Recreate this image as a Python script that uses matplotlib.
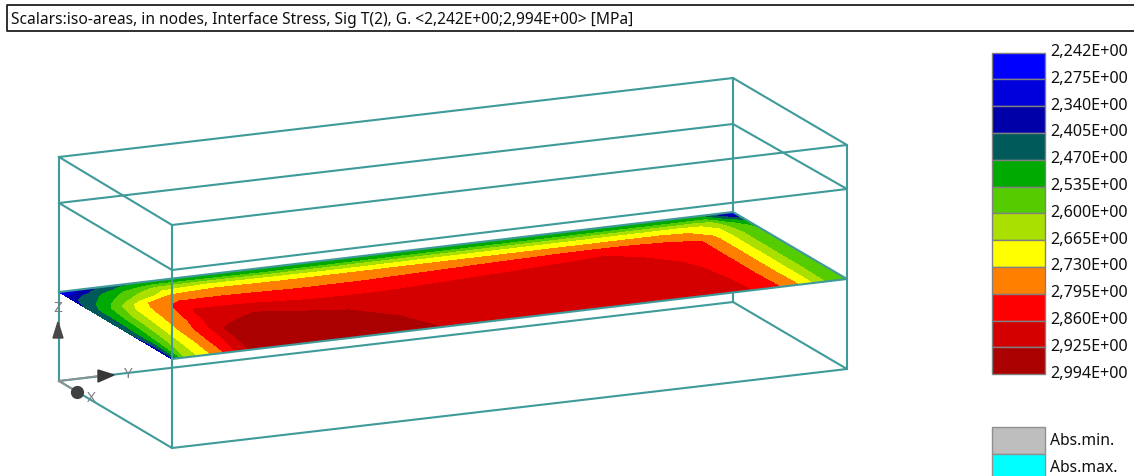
import matplotlib
matplotlib.use('Agg')
import matplotlib.pyplot as plt
import numpy as np

plt.rcParams['font.family'] = ['Noto Sans', 'DejaVu Sans']

title = 'Scalars:iso-areas, in nodes, Interface Stress, Sig T(2), G. <2,242E+00;2,994E+00> [MPa]'

# iso levels and colours of the legend
levels = [2.242, 2.275, 2.340, 2.405, 2.470, 2.535, 2.600, 2.665, 2.730, 2.795, 2.860, 2.925, 2.994]
level_labels = ['2,242E+00', '2,275E+00', '2,340E+00', '2,405E+00', '2,470E+00', '2,535E+00', '2,600E+00',
                '2,665E+00', '2,730E+00', '2,795E+00', '2,860E+00', '2,925E+00', '2,994E+00']
band_colors = ['#0000ff', '#0000dc', '#0000a8', '#005a5a', '#00aa00', '#55cc00', '#aae000',
               '#ffff00', '#ff8000', '#ff0000', '#d40000', '#aa0000']
abs_labels = ['Abs.min.', 'Abs.max.']
abs_colors = ['#bebebe', '#00ffff']

# stress, rows along the short side, columns along the long side
u_pos = [0, .01, .02, .04, .06, .08, .11, .13, .2, .3, .4, .6, .75, .86, .9, .93, .95, .97, 1]
v_pos = [0, .03, .06, .09, .13, .19, .27, .32, .43, .55, .65, .8, 1]
stress = [
    [2.245, 2.27, 2.31, 2.36, 2.41, 2.43, 2.45, 2.46, 2.46, 2.46, 2.46, 2.46, 2.46, 2.47, 2.48, 2.49, 2.47, 2.38, 2.25],
    [2.28, 2.31, 2.34, 2.39, 2.43, 2.465, 2.50, 2.51, 2.49, 2.485, 2.485, 2.49, 2.49, 2.495, 2.50, 2.51, 2.50, 2.42, 2.29],
    [2.32, 2.34, 2.37, 2.42, 2.455, 2.49, 2.535, 2.55, 2.55, 2.535, 2.535, 2.54, 2.54, 2.54, 2.54, 2.54, 2.54, 2.46, 2.35],
    [2.36, 2.385, 2.41, 2.45, 2.49, 2.53, 2.58, 2.61, 2.62, 2.60, 2.60, 2.60, 2.60, 2.60, 2.60, 2.60, 2.59, 2.50, 2.405],
    [2.39, 2.41, 2.43, 2.475, 2.52, 2.565, 2.62, 2.655, 2.68, 2.665, 2.66, 2.665, 2.665, 2.665, 2.665, 2.66, 2.63, 2.55, 2.475],
    [2.40, 2.43, 2.46, 2.51, 2.56, 2.61, 2.665, 2.72, 2.74, 2.73, 2.73, 2.73, 2.73, 2.73, 2.72, 2.70, 2.66, 2.585, 2.52],
    [2.41, 2.46, 2.49, 2.565, 2.64, 2.71, 2.785, 2.785, 2.785, 2.775, 2.775, 2.79, 2.80, 2.79, 2.78, 2.72, 2.665, 2.60, 2.535],
    [2.41, 2.46, 2.50, 2.57, 2.665, 2.725, 2.79, 2.81, 2.81, 2.80, 2.80, 2.82, 2.85, 2.805, 2.795, 2.725, 2.665, 2.60, 2.535],
    [2.41, 2.46, 2.505, 2.60, 2.675, 2.735, 2.805, 2.87, 2.865, 2.845, 2.845, 2.865, 2.875, 2.835, 2.795, 2.725, 2.665, 2.60, 2.535],
    [2.41, 2.465, 2.515, 2.61, 2.69, 2.75, 2.82, 2.89, 2.93, 2.895, 2.885, 2.895, 2.89, 2.85, 2.795, 2.725, 2.665, 2.60, 2.535],
    [2.405, 2.47, 2.525, 2.625, 2.70, 2.765, 2.85, 2.92, 2.95, 2.93, 2.905, 2.905, 2.895, 2.855, 2.795, 2.725, 2.665, 2.60, 2.535],
    [2.36, 2.46, 2.55, 2.645, 2.71, 2.78, 2.87, 2.94, 2.97, 2.95, 2.915, 2.915, 2.90, 2.858, 2.795, 2.725, 2.665, 2.60, 2.535],
    [2.36, 2.50, 2.60, 2.67, 2.735, 2.80, 2.915, 2.955, 2.99, 2.965, 2.925, 2.92, 2.905, 2.86, 2.80, 2.73, 2.665, 2.595, 2.53],
]

# corners in screen pixels: back-left, front-left, front-right, back-right
plate_x = [59, 172, 847, 733]
plate_y = [293, 360, 280, 213]
box_top_y = [158, 226, 146, 79]
box_mid_y = [204, 271, 190, 125]
box_low_y = [382, 449, 370, 303]

fig = plt.figure(figsize=(11.34, 4.77), dpi=100)
ax = fig.add_axes([0, 0, 1, 1])
ax.set_xlim(0, 1134)
ax.set_ylim(477, 0)
ax.axis('off')

teal = '#3f9a9a'
wire = 1.5

# plate, mapped from its own coordinates onto the screen
uu, vv = np.meshgrid(u_pos, v_pos)
px = plate_x[0] + uu * (plate_x[3] - plate_x[0]) + vv * (plate_x[1] - plate_x[0])
py = plate_y[0] + uu * (plate_y[3] - plate_y[0]) + vv * (plate_y[1] - plate_y[0])
ax.contourf(px, py, np.array(stress), levels=levels, colors=band_colors, zorder=2)
# the short left side of the plate has no wire on it
ax.plot(plate_x[1:] + plate_x[:1], plate_y[1:] + plate_y[:1], color=teal, lw=wire, zorder=3)

# wire box
ax.plot([plate_x[3], plate_x[3]], [box_top_y[3], box_low_y[3]], color=teal, lw=wire, zorder=1)
for ys in [box_top_y, box_mid_y, box_low_y]:
    ax.plot(plate_x + plate_x[:1], ys + ys[:1], color=teal, lw=wire, zorder=3)
for i in [0, 1, 2]:
    ax.plot([plate_x[i], plate_x[i]], [box_top_y[i], box_low_y[i]], color=teal, lw=wire, zorder=3)

# axis triad
ax.plot([59, 98], [382, 377], color='#909090', lw=1.2, zorder=4)
ax.plot([59, 72], [382, 390], color='#909090', lw=1.2, zorder=4)
ax.fill([53, 63, 58], [339, 339, 323], color='#484848', zorder=5)
ax.fill([98, 114, 98], [371, 376, 383], color='#383838', zorder=5)
ax.plot([77], [393], marker='o', ms=8.5, color='#404040', zorder=5)
ax.text(58, 309, 'Z', color='#808080', fontsize=11, ha='center', va='center')
ax.text(127, 375, 'Y', color='#808080', fontsize=11, ha='center', va='center')
ax.text(91, 399, 'X', color='#808080', fontsize=11, ha='center', va='center')

# title box
ax.plot([1134, 7, 7, 1134], [5.5, 5.5, 32, 32], color='#202020', lw=1.3, zorder=4)
ax.text(11, 20, title, fontsize=11.2, color='#101010', ha='left', va='center')

# legend
band_h = 26.8
tops = [53.5 + i * band_h for i in range(len(band_colors))]
ax.bar([1018.5] * len(tops), [band_h] * len(tops), bottom=tops, width=53, color=band_colors,
       edgecolor='#808080', lw=1, zorder=2)
for i, lab in enumerate(level_labels):
    ax.text(1050, 52 + i * 26.8, lab, fontsize=11.6, color='#101010', ha='left', va='center')

abs_tops = [428, 455]
ax.bar([1018.5] * 2, [27, 27], bottom=abs_tops, width=53, color=abs_colors, edgecolor='#909090', lw=1, zorder=2)
for top, lab in zip(abs_tops, abs_labels):
    ax.text(1050, top + 13, lab, fontsize=11.3, color='#101010', ha='left', va='center')

plt.savefig('out.png', dpi=100)
